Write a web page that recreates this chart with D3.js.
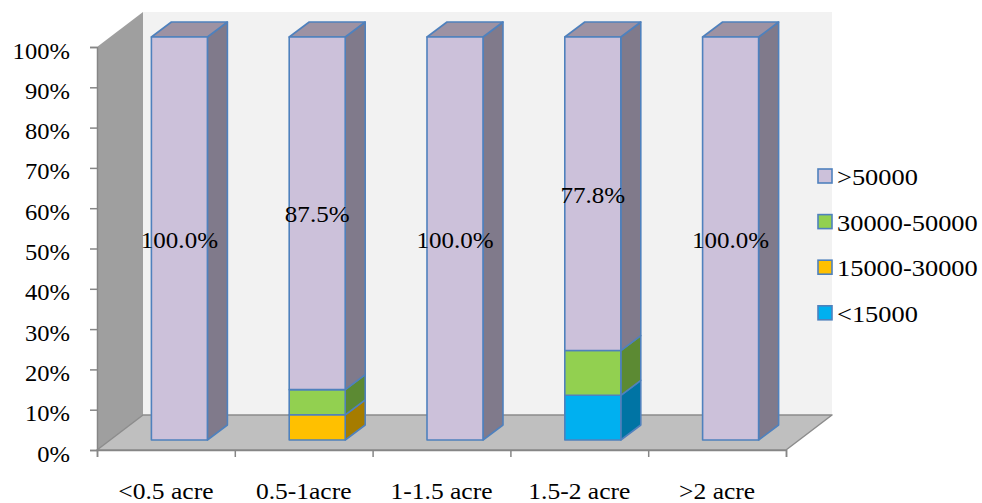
<!DOCTYPE html>
<html>
<head>
<meta charset="utf-8">
<script src="https://cdn.jsdelivr.net/npm/d3@7"></script>
<style>
  html, body { margin: 0; padding: 0; background: #ffffff; }
  svg { display: block; }
  text { font-family: "Liberation Serif", "Times New Roman", serif; fill: #000; }
</style>
</head>
<body>
<svg id="chart" width="982" height="503"></svg>
<script>
// Farm size classes and income groups (share of farms, %)
const categories = ["<0.5 acre", "0.5-1acre", "1-1.5 acre", "1.5-2 acre", ">2 acre"];
const seriesNames = ["<15000", "15000-30000", "30000-50000", ">50000"];
const below15000 = [0, 0, 0, 11.1, 0];
const from15000to30000 = [0, 6.25, 0, 0, 0];
const from30000to50000 = [0, 6.25, 0, 11.1, 0];
const above50000 = [100, 87.5, 100, 77.8, 100];
const yTicks = [0, 10, 20, 30, 40, 50, 60, 70, 80, 90, 100];
const labelledSeries = ">50000";

const seriesValues = [below15000, from15000to30000, from30000to50000, above50000];
const colors = {
  "<15000":      { front: "#00b0f0", side: "#0074a4", top: "#0090c8" },
  "15000-30000": { front: "#ffc000", side: "#a67c00", top: "#d9a300" },
  "30000-50000": { front: "#92d050", side: "#5c8a33", top: "#76ab40" },
  ">50000":      { front: "#ccc1da", side: "#807a8b", top: "#9d92a3" }
};
const edge = "#4f81bd";

const rows = categories.map((c, i) => {
  const r = { category: c };
  seriesNames.forEach((s, k) => { r[s] = seriesValues[k][i]; });
  return r;
});
const stacked = d3.stack().keys(seriesNames)(rows);

const svg = d3.select("#chart");

// front plane of the plot
const x = d3.scaleBand().domain(categories).range([97, 786]).paddingInner(0).paddingOuter(0);
const y = d3.scaleLinear().domain([0, 100]).range([450, 47]);
const xEdges = d3.scaleLinear().domain([0, categories.length]).range([97, 786]);

// depth of the plot box and of the bars
const depth = { dx: 46, dy: -35 };
const barOffset = { dx: 13.5, dy: -10 };
const barDepth = { dx: 20, dy: -15 };
const barWidth = 56;

const pts = a => a.map(p => p.join(",")).join(" ");

// back wall
svg.append("rect")
  .attr("x", x.range()[0] + depth.dx).attr("y", y(100) + depth.dy)
  .attr("width", x.range()[1] - x.range()[0]).attr("height", y(0) - y(100))
  .attr("fill", "#f2f2f2");

// side wall
svg.append("polygon")
  .attr("points", pts([
    [x.range()[0], y(0)], [x.range()[0], y(100)],
    [x.range()[0] + depth.dx, y(100) + depth.dy], [x.range()[0] + depth.dx, y(0) + depth.dy]
  ]))
  .attr("fill", "#9f9f9f");

// floor
svg.append("polygon")
  .attr("points", pts([
    [x.range()[0], y(0)], [x.range()[1], y(0)],
    [x.range()[1] + depth.dx, y(0) + depth.dy], [x.range()[0] + depth.dx, y(0) + depth.dy]
  ]))
  .attr("fill", "#bfbfbf")
  .attr("stroke", "#8c8c8c").attr("stroke-width", 1.5).attr("stroke-linejoin", "round");

// bars
const barsG = svg.append("g");
stacked.forEach((layer, k) => {
  const key = layer.key;
  const c = colors[key];
  layer.forEach((d, i) => {
    if (d[1] - d[0] <= 0) return;
    const x0 = x(categories[i]) + (x.bandwidth() - barWidth) / 2 + barOffset.dx;
    const x1 = x0 + barWidth;
    const yb = y(d[0]) + barOffset.dy;
    const yt = y(d[1]) + barOffset.dy;
    const g = barsG.append("g")
      .attr("stroke", edge).attr("stroke-width", 1.6).attr("stroke-linejoin", "round");
    g.append("polygon")
      .attr("points", pts([[x1, yb], [x1 + barDepth.dx, yb + barDepth.dy], [x1 + barDepth.dx, yt + barDepth.dy], [x1, yt]]))
      .attr("fill", c.side);
    const isTop = stacked.slice(k + 1).every(l => l[i][1] - l[i][0] <= 0);
    if (isTop) {
      g.append("polygon")
        .attr("points", pts([[x0, yt], [x1, yt], [x1 + barDepth.dx, yt + barDepth.dy], [x0 + barDepth.dx, yt + barDepth.dy]]))
        .attr("fill", c.top);
    }
    g.append("rect")
      .attr("x", x0).attr("y", yt).attr("width", barWidth).attr("height", yb - yt)
      .attr("fill", c.front);
  });
});

// value labels for the >50000 segments
const labelLayer = stacked.find(l => l.key === labelledSeries);
svg.append("g").selectAll("text")
  .data(labelLayer.map((d, i) => ({ d, i })))
  .join("text")
  .attr("text-anchor", "middle")
  .attr("font-size", 23)
  .attr("transform", ({ d, i }) => {
    const cx = x(categories[i]) + x.bandwidth() / 2 + barOffset.dx;
    const cy = (y(d[0]) + y(d[1])) / 2 + barOffset.dy + 9;
    return `translate(${cx},${cy}) scale(1.09,1)`;
  })
  .text(({ d }) => (d[1] - d[0]).toFixed(1) + "%");

// y axis
const yAxis = svg.append("g")
  .attr("transform", `translate(${x.range()[0]},0)`)
  .call(d3.axisLeft(y).tickValues(yTicks).tickSize(7).tickFormat(v => v + "%"));
yAxis.select(".domain").attr("stroke", "#868686").attr("stroke-width", 1.5);
yAxis.selectAll(".tick line").attr("stroke", "#868686").attr("stroke-width", 1.5);
yAxis.selectAll(".tick text")
  .attr("x", null).attr("dy", null)
  .attr("font-family", null).attr("font-size", 23)
  .attr("text-anchor", "end")
  .attr("transform", `translate(-27,11) scale(1.07,1)`);

// x axis: boundary ticks on the floor edge
const xAxis = svg.append("g")
  .attr("transform", `translate(0,${y(0)})`)
  .call(d3.axisBottom(xEdges).tickValues(d3.range(categories.length + 1)).tickSize(7).tickFormat(""));
xAxis.select(".domain").attr("stroke", "#868686").attr("stroke-width", 1.5);
xAxis.selectAll(".tick line").attr("stroke", "#868686").attr("stroke-width", 1.5);

// x axis category labels
const xLabels = svg.append("g")
  .attr("transform", `translate(0,${y(0)})`)
  .call(d3.axisBottom(x).tickSize(0));
xLabels.select(".domain").remove();
xLabels.selectAll(".tick text")
  .attr("y", null).attr("dy", null)
  .attr("font-family", null).attr("font-size", 23)
  .attr("transform", `translate(0,49) scale(1.11,1)`);

// legend
const legendOrder = seriesNames.slice().reverse();
const legend = svg.append("g").selectAll("g")
  .data(legendOrder)
  .join("g")
  .attr("transform", (s, i) => `translate(818,${176 + i * 45.6})`);
legend.append("rect")
  .attr("x", 0).attr("y", -7).attr("width", 14).attr("height", 14)
  .attr("fill", s => colors[s].front)
  .attr("stroke", edge).attr("stroke-width", 1.6);
legend.append("text")
  .attr("font-size", 24)
  .attr("transform", `translate(19,9) scale(1.1,1)`)
  .text(s => s);
</script>
</body>
</html>
